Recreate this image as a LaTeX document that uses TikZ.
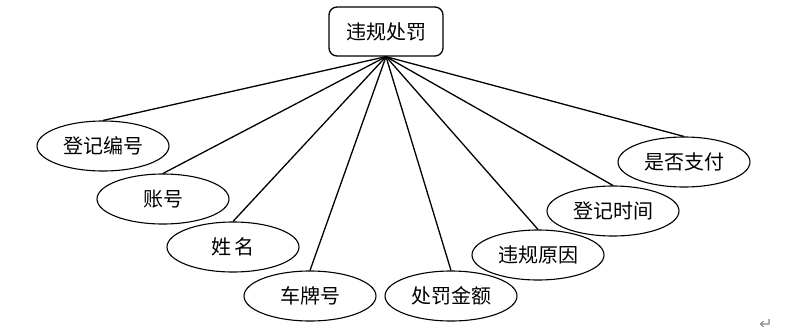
\documentclass[tikz,border=0pt]{standalone}
\usepackage{fontspec}
\newfontfamily\cjk{Noto Sans CJK SC}
\newfontfamily\symfont{DejaVu Sans}
\usetikzlibrary{shapes.geometric}
\definecolor{markgray}{HTML}{8A8A8A}
\begin{document}
\begin{tikzpicture}[x=1pt,y=-1pt,line width=1.3pt,
  entity/.style={draw,rounded corners=8pt,minimum width=114pt,minimum height=49pt,inner sep=0pt,font=\cjk\fontsize{20}{20}\selectfont},
  attr/.style={draw,ellipse,line width=1.1pt,minimum width=132pt,minimum height=50pt,inner sep=0pt,font=\cjk\fontsize{20}{20}\selectfont}]
\useasboundingbox (0,0) rectangle (798,335);
\node[entity] (penalty) at (386,31.5) {违规处罚};
\foreach \n/\x/\y/\t in {regno/103/146/{登记编号},account/163/199/{账号},name/233/247/{姓\,名},plate/310/296/{车牌号},amount/451/296/{处罚金额},reason/538/255/{违规原因},regtime/613/211/{登记时间},paid/684/162/{是否支付}}{\node[attr] (\n) at (\x,\y) {\t};}
\foreach \n in {regno,account,name,plate,amount,reason,regtime,paid}{\draw (penalty.south)--(\n.north);}
\node[font=\symfont\fontsize{16}{16}\selectfont,text=markgray] (para) at (766,324) {↵};
\end{tikzpicture}
\end{document}
